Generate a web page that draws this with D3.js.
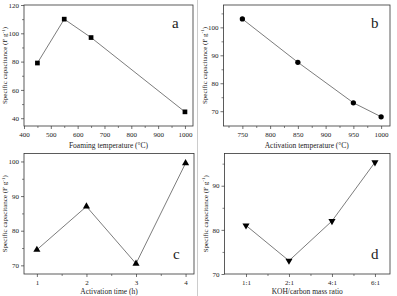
<!doctype html>
<html lang="en">
<head>
<meta charset="utf-8">
<title>Specific capacitance panels</title>
<style>
  body { margin: 0; background: #fff; }
  svg text { font-family: "Liberation Serif", "Times New Roman", serif; fill: #222; }
</style>
</head>
<body>
<script src="https://cdn.jsdelivr.net/npm/d3@7"></script>
<script>

// panel a
var foamTemp = [450, 550, 650, 1000];
var foamCap  = [79, 110, 97, 44.5];
// panel b
var actTemp = [750, 850, 950, 1000];
var actCap  = [103, 87.5, 73, 68];
// panel c
var actTime    = [1, 2, 3, 4];
var actTimeCap = [74.5, 87, 70.5, 99.5];
// panel d
var ratios   = ["1:1", "2:1", "4:1", "6:1"];
var ratioCap = [81, 73, 82, 95.3];

var W = 397, H = 296;
var FONT = "'Liberation Serif', 'Times New Roman', serif";

var svg = d3.select("body").append("svg")
    .attr("width", W).attr("height", H);

// faint divider between the two columns
svg.append("line")
   .attr("x1", 197.5).attr("x2", 197.5).attr("y1", 0).attr("y2", H)
   .attr("stroke", "#ccc").attr("stroke-width", 1);

function panel(o) {
  var g = svg.append("g");
  var x = d3.scaleLinear().domain(o.xdom).range([o.left, o.right]);
  var y = d3.scaleLinear().domain(o.ydom).range([o.bottom, o.top]);

  // frame
  g.append("rect")
   .attr("x", o.left).attr("y", o.top)
   .attr("width", o.right - o.left).attr("height", o.bottom - o.top)
   .attr("fill", "none").attr("stroke", "#333").attr("stroke-width", 0.8);

  // minor ticks
  g.append("g")
   .attr("transform", "translate(0," + o.bottom + ")")
   .call(d3.axisBottom(x).tickValues(o.xminor).tickSize(2).tickFormat(""))
   .call(function(a){ a.select(".domain").remove(); a.selectAll("line").attr("stroke", "#333").attr("stroke-width", 0.6); });
  g.append("g")
   .attr("transform", "translate(" + o.left + ",0)")
   .call(d3.axisLeft(y).tickValues(o.yminor).tickSize(2).tickFormat(""))
   .call(function(a){ a.select(".domain").remove(); a.selectAll("line").attr("stroke", "#333").attr("stroke-width", 0.6); });

  // major ticks
  var xa = d3.axisBottom(x).tickValues(o.xticks).tickSize(3).tickPadding(3)
      .tickFormat(o.xfmt || d3.format("d"));
  g.append("g")
   .attr("transform", "translate(0," + o.bottom + ")")
   .attr("font-family", FONT)
   .call(xa)
   .call(function(a){
     a.select(".domain").remove();
     a.selectAll("line").attr("stroke", "#333").attr("stroke-width", 0.7);
     a.selectAll("text").style("font-size", "7px").attr("fill", "#222");
   });
  g.append("g")
   .attr("transform", "translate(" + o.left + ",0)")
   .attr("font-family", FONT)
   .call(d3.axisLeft(y).tickValues(o.yticks).tickSize(3).tickPadding(2).tickFormat(d3.format("d")))
   .call(function(a){
     a.attr("font-family", FONT);
     a.select(".domain").remove();
     a.selectAll("line").attr("stroke", "#333").attr("stroke-width", 0.7);
     a.selectAll("text").style("font-size", "7px").attr("fill", "#222");
   });

  // axis titles
  g.append("text")
   .attr("x", (o.left + o.right) / 2).attr("y", o.bottom + o.tdy)
   .attr("text-anchor", "middle").style("font-size", "7.5px")
   .text(o.xtitle);
  var yl = g.append("text")
   .attr("transform", "translate(" + (o.left - 17) + "," + ((o.top + o.bottom) / 2) + ") rotate(-90)")
   .attr("text-anchor", "middle").style("font-size", "7px");
  yl.append("tspan").text("Specific capacitance (F g");
  yl.append("tspan").attr("dy", -2.5).style("font-size", "5px").text("-1");
  yl.append("tspan").attr("dy", 2.5).text(")");

  // data line + markers
  var pts = o.xs.map(function(d, i){ return [x(d), y(o.ys[i])]; });
  g.append("path")
   .attr("d", d3.line()(pts))
   .attr("fill", "none").attr("stroke", "#444").attr("stroke-width", 0.7);
  g.selectAll(".m")
   .data(pts).enter().append("path")
   .attr("transform", function(d){ return "translate(" + d[0] + "," + d[1] + ")" + (o.rot ? " rotate(180)" : ""); })
   .attr("d", d3.symbol().type(o.sym).size(o.symSize))
   .attr("fill", "#000");

  // panel letter
  g.append("text")
   .attr("x", o.lx).attr("y", o.ly)
   .style("font-size", "15px").attr("fill", "#111")
   .text(o.letter);
}

panel({
  left: 24, right: 193, top: 5, bottom: 126, tdy: 22,
  xdom: [400, 1030], ydom: [34.5, 120],
  xticks: d3.range(400, 1001, 100), xminor: d3.range(450, 1001, 100),
  yticks: d3.range(40, 121, 20), yminor: d3.range(50, 111, 20),
  xs: foamTemp, ys: foamCap,
  sym: d3.symbolSquare, symSize: 22,
  xtitle: "Foaming temperature (\u00B0C)", letter: "a", lx: 172, ly: 28
});

panel({
  left: 223.5, right: 390, top: 5, bottom: 126, tdy: 22,
  xdom: [716, 1016], ydom: [64.7, 108],
  xticks: d3.range(750, 1001, 50), xminor: d3.range(725, 1001, 50),
  yticks: d3.range(70, 101, 10), yminor: d3.range(75, 106, 10),
  xs: actTemp, ys: actCap,
  sym: d3.symbolCircle, symSize: 22,
  xtitle: "Activation temperature (\u00B0C)", letter: "b", lx: 371, ly: 28
});

panel({
  left: 24, right: 194, top: 153.5, bottom: 274, tdy: 19.5,
  xdom: [0.74, 4.17], ydom: [67.5, 102.3],
  xticks: [1, 2, 3, 4], xminor: [1.5, 2.5, 3.5],
  yticks: [70, 80, 90, 100], yminor: [75, 85, 95],
  xs: actTime, ys: actTimeCap,
  sym: d3.symbolTriangle, symSize: 22,
  xtitle: "Activation time (h)", letter: "c", lx: 173, ly: 259
});

panel({
  left: 224.5, right: 390, top: 153.5, bottom: 274, tdy: 19.5,
  xdom: [-0.5, 3.35], ydom: [70, 97.3],
  xticks: [0, 1, 2, 3], xminor: [0.5, 1.5, 2.5],
  xfmt: function(d){ return ratios[d]; },
  yticks: [70, 80, 90], yminor: [75, 85, 95],
  xs: ratios.map(function(d, i){ return i; }), ys: ratioCap,
  sym: d3.symbolTriangle, symSize: 22, rot: true,
  xtitle: "KOH/carbon mass ratio", letter: "d", lx: 371, ly: 259
});

</script>
</body>
</html>
